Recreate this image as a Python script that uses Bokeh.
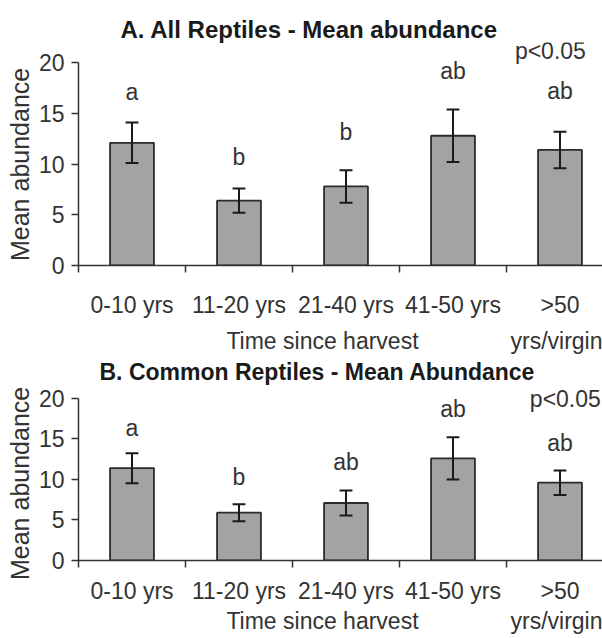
from bokeh.plotting import figure
from bokeh.models import Range1d, FixedTicker, LinearAxis, ColumnDataSource, Label
from bokeh.layouts import column
from bokeh.embed import file_html
from bokeh.resources import INLINE

categories_line1 = ["0-10 yrs", "11-20 yrs", "21-40 yrs", "41-50 yrs", ">50"]
category_line2 = "yrs/virgin"

titles = ["A.  All Reptiles - Mean abundance", "B. Common Reptiles - Mean Abundance"]

mean_all = [12.1, 6.4, 7.8, 12.8, 11.4]
err_all = [2.0, 1.2, 1.6, 2.6, 1.8]
letters_all = ["a", "b", "b", "ab", "ab"]
letter_y_all = [17.1, 10.7, 13.2, 19.2, 17.2]

mean_common = [11.4, 5.9, 7.1, 12.6, 9.6]
err_common = [1.85, 1.05, 1.55, 2.6, 1.5]
letters_common = ["a", "b", "ab", "ab", "ab"]
letter_y_common = [16.3, 10.3, 12.1, 18.7, 14.5]

p_text = "p<0.05"
p_y = [21.2, 19.9]
p_x = [4.41, 4.55]
xlabel = "Time since harvest"
ylabel = "Mean abundance"

FONT = "Liberation Sans"
TXT = "#333333"
FS = "23px"
W = 602
UNIT = 107.0


def style_axis_lines(ax):
    ax.axis_line_color = "#333333"
    ax.axis_line_width = 1.5
    ax.major_tick_line_color = "#333333"
    ax.major_tick_line_width = 1.5
    ax.major_tick_out = 7
    ax.major_tick_in = 0
    ax.minor_tick_out = 0
    ax.minor_tick_in = 0


def label_axis(ticks, labels, standoff):
    a = LinearAxis(ticker=FixedTicker(ticks=ticks),
                   major_label_overrides={t: s for t, s in zip(ticks, labels)})
    a.axis_line_color = None
    a.major_tick_line_color = None
    a.minor_tick_line_color = None
    a.major_tick_out = 0
    a.major_tick_in = 0
    a.minor_tick_out = 0
    a.minor_tick_in = 0
    a.major_label_standoff = standoff
    a.major_label_text_font = FONT
    a.major_label_text_font_size = FS
    a.major_label_text_color = TXT
    return a


def make_panel(title, title_fs, title_offset, means, errs, letters, letter_y, pvx, pvy,
               height, border_top, border_bottom, ymax, s1, s2, title_standoff):
    left = 78
    x = [i + 0.5 for i in range(len(means))]
    upper = [m + e for m, e in zip(means, errs)]
    lower = [m - e for m, e in zip(means, errs)]
    src = ColumnDataSource(dict(
        x=x, top=means, upper=upper, lower=lower,
        cl=[v - 0.06 for v in x], cr=[v + 0.06 for v in x],
        lab=letters, ly=letter_y))
    p = figure(width=W, height=height, output_backend="svg", toolbar_location=None,
               x_range=Range1d(0, (W - left) / UNIT), y_range=Range1d(0, ymax),
               min_border_left=left, min_border_right=0, min_border_top=border_top,
               min_border_bottom=border_bottom, outline_line_color=None,
               background_fill_color="white", border_fill_color="white")
    p.title.text = title
    p.title.align = "left"
    p.title.offset = title_offset
    p.title.standoff = title_standoff
    p.title.text_font = FONT
    p.title.text_font_size = title_fs
    p.title.text_font_style = "bold"
    p.title.text_color = "#1a1a1a"
    p.grid.visible = False

    p.vbar(x="x", top="top", width=0.41, bottom=0, source=src,
           fill_color="#a3a3a3", line_color="#2b2b2b", line_width=1.8)
    p.segment(x0="x", y0="lower", x1="x", y1="upper", source=src,
              line_color="#1a1a1a", line_width=2)
    p.segment(x0="cl", y0="upper", x1="cr", y1="upper", source=src,
              line_color="#1a1a1a", line_width=2)
    p.segment(x0="cl", y0="lower", x1="cr", y1="lower", source=src,
              line_color="#1a1a1a", line_width=2)
    p.text(x="x", y="ly", text="lab", source=src, text_align="center",
           text_baseline="middle", text_font_size=FS, text_color=TXT,
           text_font={"value": FONT})
    p.add_layout(Label(x=pvx, y=pvy, text=p_text, text_align="center",
                       text_baseline="middle", text_font=FONT, text_font_size=FS,
                       text_color=TXT))

    ya = p.yaxis[0]
    ya.bounds = (0, 20)
    ya.ticker = FixedTicker(ticks=[0, 5, 10, 15, 20])
    ya.axis_label = ylabel + "\u00a0\u00a0\u00a0"
    ya.axis_label_text_font = FONT
    ya.axis_label_text_font_size = "25px"
    ya.axis_label_text_font_style = "normal"
    ya.axis_label_text_color = TXT
    ya.axis_label_standoff = 2
    ya.major_label_text_font = FONT
    ya.major_label_text_font_size = FS
    ya.major_label_text_color = TXT
    ya.major_label_standoff = 7
    style_axis_lines(ya)

    xa = p.xaxis[0]
    xa.ticker = FixedTicker(ticks=[0, 1, 2, 3, 4])
    xa.major_label_overrides = {0: "", 1: "", 2: "", 3: "", 4: ""}
    xa.major_label_text_font_size = "1px"
    xa.major_label_standoff = 0
    style_axis_lines(xa)

    p.add_layout(label_axis(x, categories_line1, s1), "below")
    p.add_layout(label_axis([2.28, 4.47], [xlabel, category_line2], s2), "below")
    return p


p1 = make_panel(titles[0], "24px", 42, mean_all, err_all, letters_all, letter_y_all,
                p_x[0], p_y[0], height=356, border_top=42, border_bottom=90, ymax=22,
                s1=19, s2=7, title_standoff=0)
p2 = make_panel(titles[1], "23px", 21, mean_common, err_common, letters_common,
                letter_y_common, p_x[1], p_y[1], height=280, border_top=28,
                border_bottom=71, ymax=21.6, s1=10, s2=1, title_standoff=1)

layout = column(p1, p2, spacing=0)
open("out.html", "w").write(file_html(layout, INLINE))
